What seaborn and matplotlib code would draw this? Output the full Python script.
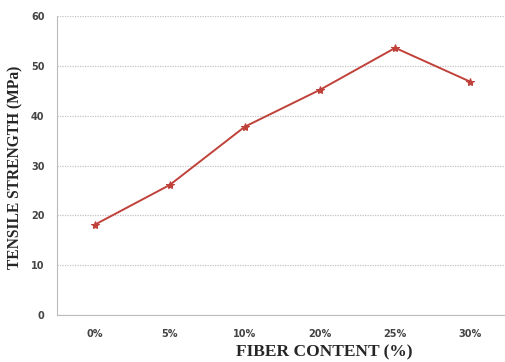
import matplotlib
matplotlib.use("Agg")
import matplotlib.pyplot as plt
import seaborn as sns
import pandas as pd

categories = ["0%", "5%", "10%", "20%", "25%", "30%"]
strength = [18.1, 26.1, 37.8, 45.2, 53.6, 46.8]
yticks = [0, 10, 20, 30, 40, 50, 60]

sns.set_style("white")
plt.rcParams["font.family"] = ["DejaVu Sans"]

df = pd.DataFrame({"fiber": categories, "strength": strength})

fig = plt.figure(figsize=(5.06, 3.62), dpi=100)
ax = fig.add_axes([57/506, 47/362, 451/506, 299/362])

sns.lineplot(data=df, x="fiber", y="strength", ax=ax, color="#c0413a",
             linewidth=1.4, marker="*", markersize=6, markeredgecolor="#c0413a",
             sort=False)

ax.set_xlim(-0.5, 5.5)
ax.set_ylim(0, 60)
ax.set_yticks(yticks)
ax.set_yticklabels([str(t) for t in yticks], fontsize=7, fontweight="bold", color="#444444")
ax.set_xticks(range(len(categories)))
ax.set_xticklabels(categories, fontsize=7, fontweight="bold", color="#444444")
ax.tick_params(axis="x", length=0, pad=10)
ax.tick_params(axis="y", length=3, pad=6, color="#aaaaaa")
ax.set_xticks([i + 0.5 for i in range(len(categories) - 1)], minor=True)
ax.tick_params(axis="x", which="minor", length=3, color="#aaaaaa", direction="in")

ax.grid(axis="y", color="#c4c4c4", linestyle=(0, (1, 1)), linewidth=0.9)
for s in ["top", "right"]:
    ax.spines[s].set_visible(False)
ax.spines["left"].set_color("#bbbbbb")
ax.spines["left"].set_linestyle((0, (1, 1)))
ax.spines["bottom"].set_color("#bbbbbb")
ax.spines["bottom"].set_linestyle((0, (1, 1)))

ax.set_xlabel("")
ax.set_ylabel("")
fig.text(15/506, 1 - 167/362, "TENSILE STRENGTH (MPa)", fontsize=11.2, fontweight="bold",
         family="Liberation Serif", ha="center", va="center", rotation=90)
fig.text(324/506, 1 - 352/362, "FIBER CONTENT (%)", fontsize=12.5, fontweight="bold",
         family="Liberation Serif", ha="center", va="center")

fig.savefig("out.png", dpi=100)
